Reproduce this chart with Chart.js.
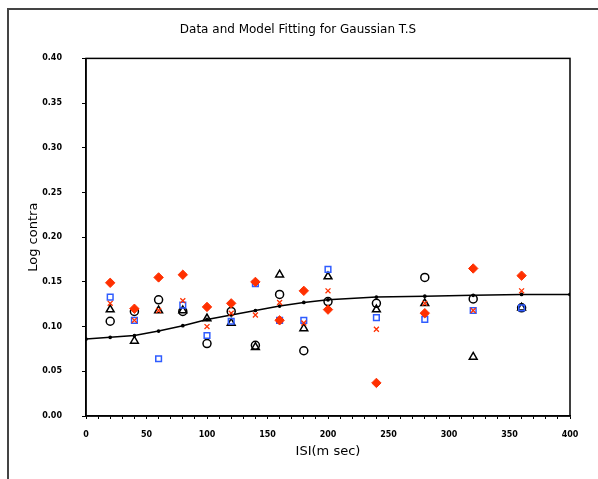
<!DOCTYPE html>
<html>
<head>
<meta charset="utf-8">
<script src="https://cdn.jsdelivr.net/npm/chart.js@4"></script>
<style>
  body { margin:0; background:#fff; }
  #wrap { position:relative; width:598px; height:479px; overflow:hidden; }
  #frame { position:absolute; left:7px; top:8px; width:620px; height:500px;
           border-left:2px solid #444; border-top:2px solid #444; }
  canvas { position:absolute; left:0; top:0; }
</style>
</head>
<body>
<div id="wrap">
  <div id="frame"></div>
  <canvas id="grafico" width="598" height="479"></canvas>
</div>
<script>
// dados
const isi = [20, 40, 60, 80, 100, 120, 140, 160, 180, 200, 240, 280, 320, 360];
const circulos  = [0.106, 0.117, 0.130, 0.117, 0.081, 0.117, 0.079, 0.136, 0.073, 0.128, 0.126, 0.155, 0.131, 0.121];
const triangulos = [0.119, 0.084, 0.118, 0.118, 0.109, 0.104, 0.077, 0.158, 0.098, 0.156, 0.119, 0.126, 0.066, 0.121];
const quadrados = [0.133, 0.107, 0.064, 0.124, 0.090, 0.106, 0.148, 0.107, 0.107, 0.164, 0.110, 0.108, 0.118, 0.121];
const cruzes    = [0.126, 0.107, 0.118, 0.129, 0.100, 0.115, 0.113, 0.127, 0.104, 0.140, 0.097, 0.126, 0.118, 0.140];
const losangos  = [0.149, 0.120, 0.155, 0.158, 0.122, 0.126, 0.150, 0.107, 0.140, 0.119, 0.037, 0.115, 0.165, 0.157];

// curva do modelo
const modeloX = [0, 20, 40, 60, 80, 100, 120, 140, 160, 180, 200, 240, 280, 320, 360, 400];
const modeloY = [0.086, 0.088, 0.090, 0.095, 0.101, 0.108, 0.113, 0.118, 0.123, 0.127, 0.130, 0.133, 0.134, 0.135, 0.136, 0.136];

const yTicks = [0, 0.05, 0.10, 0.15, 0.20, 0.25, 0.30, 0.35, 0.40];

function pontos(ys, xs){ return ys.map((y,i)=>({x:(xs||isi)[i], y:y})); }

const vermelho = "#ff3000";
const azul = "#2f5cff";

// moldura do gráfico (topo e direita)
const moldura = {
  id:"moldura",
  afterDraw(chart){
    const a = chart.chartArea, c = chart.ctx;
    c.save();
    c.strokeStyle = "#000"; c.lineWidth = 1.5;
    c.strokeRect(a.left, a.top, a.right-a.left, a.bottom-a.top);
    c.restore();
  }
};

let ctx = document.getElementById("grafico").getContext("2d");
let grafico = new Chart(ctx, {
  type:"scatter",
  data:{
    datasets:[
      { label:"modelo", type:"line", data:pontos(modeloY, modeloX), borderColor:"#000", backgroundColor:"#000",
        borderWidth:1.5, pointRadius:1.1, tension:0, showLine:true, order:6 },
      { label:"circ", data:pontos(circulos), pointStyle:"circle", pointRadius:4, borderColor:"#000",
        backgroundColor:"rgba(0,0,0,0)", pointBorderWidth:1.5, order:5 },
      { label:"tri", data:pontos(triangulos), pointStyle:"triangle", pointRadius:4.5, borderColor:"#000",
        backgroundColor:"rgba(0,0,0,0)", pointBorderWidth:1.5, order:4 },
      { label:"quad", data:pontos(quadrados), pointStyle:"rect", pointRadius:4, borderColor:azul,
        backgroundColor:"rgba(0,0,0,0)", pointBorderWidth:1.5, order:3 },
      { label:"x", data:pontos(cruzes), pointStyle:"crossRot", pointRadius:3.5, borderColor:vermelho,
        backgroundColor:vermelho, pointBorderWidth:1.3, order:2 },
      { label:"los", data:pontos(losangos), pointStyle:"rectRot", pointRadius:4.7, borderColor:vermelho,
        backgroundColor:vermelho, pointBorderWidth:1, order:1 }
    ]
  },
  options:{
    responsive:false, animation:false, devicePixelRatio:1,
    layout:{ padding:{ left:26, right:28, top:0, bottom:8 } },
    plugins:{
      legend:{ display:false }, tooltip:{ enabled:false },
      title:{ display:true, text:"Data and Model Fitting for Gaussian T.S", color:"#000",
        font:{ family:"DejaVu Sans", size:12, weight:"normal" }, padding:{ top:23, bottom:21 } }
    },
    scales:{
      x:{ type:"linear", min:0, max:400,
        ticks:{ stepSize:10, autoSkip:false, maxRotation:0, color:"#000", padding:11,
          font:{ family:"DejaVu Sans", size:8, weight:"bold" },
          callback:v => v%50===0 ? String(v) : "" },
        grid:{ drawOnChartArea:false, tickLength:3, color:"#000" },
        border:{ color:"#000", width:1.5 },
        title:{ display:true, text:"ISI(m sec)", color:"#000",
          font:{ family:"DejaVu Sans", size:13 }, padding:{ top:4, bottom:12 } },
        afterFit(s){ s.height = 55; }
      },
      y:{ min:0, max:0.4,
        afterBuildTicks(s){ s.ticks = yTicks.map(v=>({value:v})); },
        ticks:{ color:"#000", padding:20, font:{ family:"DejaVu Sans", size:8, weight:"bold" },
          callback:v => Number(v).toFixed(2) },
        grid:{ drawOnChartArea:false, tickLength:4, color:"#000" },
        border:{ color:"#000", width:1.5 },
        title:{ display:true, text:"Log contra", color:"#000",
          font:{ family:"DejaVu Sans", size:13 }, padding:{ top:0, bottom:8 } },
        afterFit(s){ s.width = 60; }
      }
    }
  },
  plugins:[moldura]
});
</script>
</body>
</html>
